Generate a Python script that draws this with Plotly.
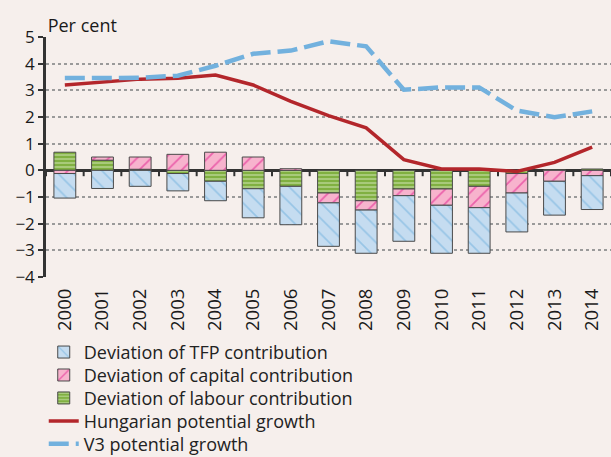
import plotly.graph_objects as go

years = ["2000", "2001", "2002", "2003", "2004", "2005", "2006", "2007",
         "2008", "2009", "2010", "2011", "2012", "2013", "2014"]
tfp = [-0.92, -0.68, -0.60, -0.65, -0.73, -1.09, -1.44, -1.63,
       -1.62, -1.71, -1.80, -1.71, -1.46, -1.27, -1.27]
capital = [-0.12, 0.12, 0.46, 0.60, 0.68, 0.50, 0.06, -0.37,
           -0.35, -0.25, -0.61, -0.80, -0.73, -0.41, -0.20]
labour = [0.68, 0.38, 0.04, -0.12, -0.41, -0.69, -0.60, -0.85,
          -1.14, -0.70, -0.70, -0.60, -0.12, 0.02, 0.05]
hungarian = [3.20, 3.30, 3.42, 3.45, 3.57, 3.20, 2.59, 2.05,
             1.59, 0.40, 0.05, 0.05, -0.04, 0.30, 0.87]
v3 = [3.46, 3.46, 3.47, 3.55, 3.92, 4.37, 4.49, 4.84,
      4.65, 3.02, 3.11, 3.11, 2.24, 1.99, 2.21]
y_ticks = [-4, -3, -2, -1, 0, 1, 2, 3, 4, 5]

x = list(range(len(years)))
boundaries = [i - 0.5 for i in range(len(years) + 1)]
FONT = "'Open Sans', Lato, sans-serif"
BG = "#f6efec"
EDGE = "#4a4a4a"
ymin, ymax = -4, 5
TICK_UNITS = 0.22  # length of the zero-line tick marks in axis units

fig = go.Figure()
fig.add_trace(go.Bar(
    x=x, y=labour, name="Deviation of labour contribution", legend="legend3",
    marker=dict(color="#80b041", line=dict(color=EDGE, width=1),
                pattern=dict(shape="-", fgcolor="#d9e9bf", bgcolor="#80b041",
                             size=4, solidity=0.45, fillmode="overlay")),
))
fig.add_trace(go.Bar(
    x=x, y=capital, name="Deviation of capital contribution", legend="legend2",
    marker=dict(color="#f7b3cd", line=dict(color=EDGE, width=1),
                pattern=dict(shape="/", fgcolor="#e0118a", bgcolor="#f7b3cd",
                             size=10, solidity=0.18, fillmode="overlay")),
))
fig.add_trace(go.Bar(
    x=x, y=tfp, name="Deviation of TFP contribution", legend="legend",
    marker=dict(color="#c5dcf0", line=dict(color=EDGE, width=1),
                pattern=dict(shape="\\", fgcolor="#6aaddc", bgcolor="#c5dcf0",
                             size=11, solidity=0.15, fillmode="overlay")),
))
# small tick marks hanging below the zero line at category boundaries
fig.add_trace(go.Scatter(
    x=boundaries, y=[0] * len(boundaries), mode="markers",
    marker=dict(opacity=0, size=1), showlegend=False, hoverinfo="skip",
    error_y=dict(type="data", symmetric=False, array=[0] * len(boundaries),
                 arrayminus=[TICK_UNITS] * len(boundaries),
                 color="#333", thickness=2, width=0),
))
fig.add_trace(go.Scatter(
    x=x, y=hungarian, mode="lines", name="Hungarian potential growth",
    legend="legend4", line=dict(color="#b3262b", width=3.5),
))
fig.add_trace(go.Scatter(
    x=x, y=v3, mode="lines", name="V3 potential growth", legend="legend5",
    line=dict(color="#72b1de", width=4.5, dash="20px,7px"),
))

# one single-entry legend per row, so row spacing matches the reference
row_centres_px = [353, 376, 399, 422, 445]
plot_top, plot_bottom = 37, 277.5


def legend_at(px):
    return dict(x=-0.004, xanchor="left",
                y=(plot_bottom - px) / (plot_bottom - plot_top),
                yanchor="middle", bgcolor="rgba(0,0,0,0)",
                font=dict(size=18, color="#222"), itemwidth=30)


legends = {("legend" if i == 0 else f"legend{i + 1}"): legend_at(p)
           for i, p in enumerate(row_centres_px)}

fig.update_layout(
    width=611, height=457,
    paper_bgcolor=BG, plot_bgcolor=BG,
    margin=dict(l=46, r=0, t=37, b=180, autoexpand=False),
    barmode="relative", bargap=0.42,
    font=dict(family=FONT, size=16, color="#1a1a1a"),
    showlegend=True,
    title=dict(text="Per cent", x=0.003, xref="paper", xanchor="left",
               y=1 - 26 / 457, yref="container", yanchor="middle",
               font=dict(size=18, color="#1a1a1a")),
    xaxis=dict(range=[-0.5, 14.5], tickmode="array", tickvals=x,
               ticktext=years, tickangle=-90, ticks="", showgrid=False,
               zeroline=False, showline=False, ticklabelstandoff=7,
               automargin=False,
               tickfont=dict(size=18.5, color="#1a1a1a")),
    yaxis=dict(range=[ymin, ymax], tickmode="array", tickvals=y_ticks,
               ticktext=[str(v).replace("-", "\u2212") for v in y_ticks],
               showgrid=True, gridcolor="#9a9a9a", griddash="dot",
               gridwidth=1.5, zeroline=True, zerolinecolor="#333",
               zerolinewidth=2.5, showline=True, linecolor="#333",
               linewidth=2.5, ticks="outside", ticklen=5, tickwidth=2,
               tickcolor="#333", automargin=False,
               tickfont=dict(size=17, color="#1a1a1a")),
    **legends,
)

fig.write_html("out.html", config={"displayModeBar": False},
               post_script="document.body.style.margin='0';")
